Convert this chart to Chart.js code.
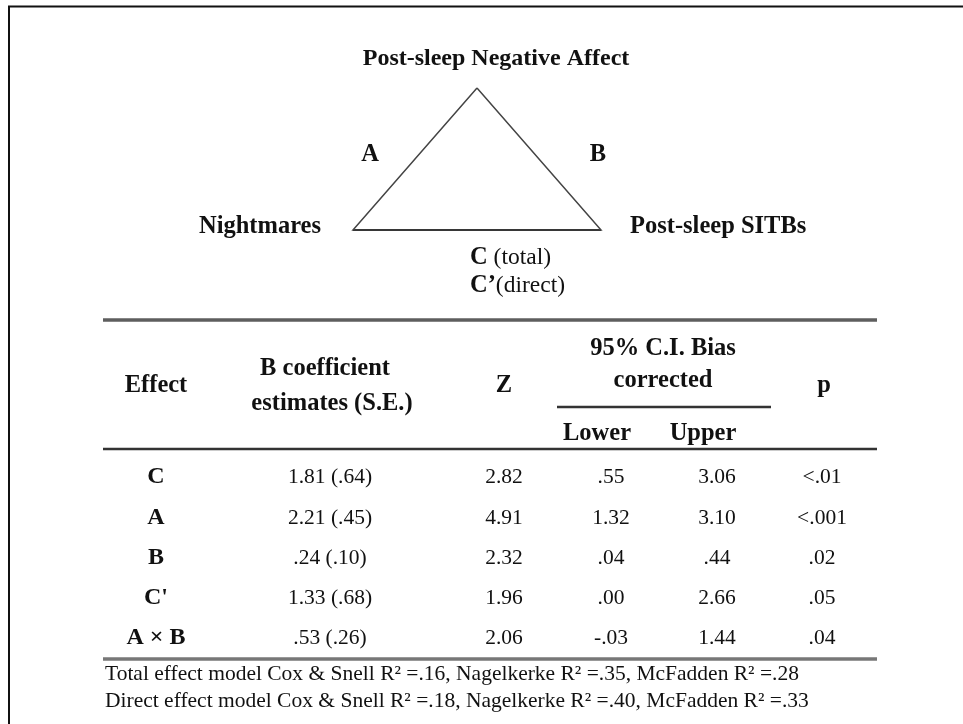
<!DOCTYPE html>
<html>
<head>
<meta charset="utf-8">
<script src="https://cdn.jsdelivr.net/npm/chart.js@4.4.1/dist/chart.umd.min.js"></script>
<style>
  html, body { margin: 0; background: #fff; }
  canvas { display: block; }
</style>
</head>
<body>
<canvas id="fig" width="963" height="724"></canvas>
<script>
// Mediation figure + effects table, all on one Chart.js canvas

// --- diagram (abstract node coordinates: apex on top, two base corners) ---
const nodeNames = ['Post-sleep Negative Affect', 'Nightmares', 'Post-sleep SITBs'];
const nodeX = [0, -1, 1];
const nodeY = [1, 0, 0];
const pathNames = ['A', 'B'];

// --- table ---
const headers = ['Effect', 'B coefficient', 'Z', '95% C.I. Bias', 'p'];
const subHeaders = ['Lower', 'Upper'];
const effects = ['C', 'A', 'B', "C'", 'A × B'];
const bEst = [1.81, 2.21, 0.24, 1.33, 0.53];
const bSE = [0.64, 0.45, 0.10, 0.68, 0.26];
const zVals = [2.82, 4.91, 2.32, 1.96, 2.06];
const ciLower = [0.55, 1.32, 0.04, 0.00, -0.03];
const ciUpper = [3.06, 3.10, 0.44, 2.66, 1.44];
const pVals = ['<.01', '<.001', '.02', '.05', '.04'];
const notes = [
  'Total effect model Cox & Snell R² =.16, Nagelkerke R² =.35, McFadden R² =.28',
  'Direct effect model Cox & Snell R² =.18, Nagelkerke R² =.40, McFadden R² =.33'
];

const W = 963, H = 724;
const SERIF = '"Liberation Serif", "Times New Roman", serif';
const INK = '#111';

// diagram placement: apex/base pixels
const apexPx = { x: 477, y: 88 }, baseY = 230, halfW = 124;
const dySpan = H / (baseY - apexPx.y);

// table placement
const colX = [156, 330, 504, 611, 717, 822];
const rowBase = [483, 524, 564, 604, 644];
const tableL = 103, tableR = 877;

// APA style: drop leading zero
function fmt(v) {
  return v.toFixed(2).replace(/^(-?)0\./, '$1.');
}

function triangle() {
  const idx = [0, 1, 2, 0];
  return idx.map(i => ({ x: nodeX[i], y: nodeY[i] }));
}

function hline(x1, x2, y) { return [{ x: x1, y: y }, { x: x2, y: y }]; }

function drawRuns(ctx, runs, x, y, align) {
  let total = 0;
  runs.forEach(r => { ctx.font = r.font; total += ctx.measureText(r.t).width; });
  let cx = align === 'center' ? x - total / 2 : (align === 'right' ? x - total : x);
  ctx.textAlign = 'left';
  runs.forEach(r => {
    ctx.font = r.font;
    ctx.fillText(r.t, cx, y);
    cx += ctx.measureText(r.t).width;
  });
}

const textPlugin = {
  id: 'figText',
  afterDraw(chart) {
    const ctx = chart.ctx;
    const sx = chart.scales.x, sy = chart.scales.y;
    const px = v => sx.getPixelForValue(v), py = v => sy.getPixelForValue(v);
    const BN = 'bold 24.5px ' + SERIF, RN = '23.5px ' + SERIF;
    const BH = 'bold 24.5px ' + SERIF, RV = '21.5px ' + SERIF;
    ctx.save();
    ctx.fillStyle = INK;
    ctx.textBaseline = 'alphabetic';

    // box frame (cut off right and bottom)
    ctx.strokeStyle = '#111';
    ctx.lineWidth = 2;
    ctx.beginPath();
    ctx.moveTo(px(9), py(H));
    ctx.lineTo(px(9), py(6.5));
    ctx.lineTo(px(W), py(6.5));
    ctx.stroke();

    // node labels
    ctx.font = 'bold 24px ' + SERIF;
    ctx.textAlign = 'center';
    ctx.fillText(nodeNames[0], px(496), py(65));
    ctx.font = BN;
    ctx.textAlign = 'right';
    ctx.fillText(nodeNames[1], px(321), py(233));
    ctx.textAlign = 'left';
    ctx.fillText(nodeNames[2], px(630), py(233));
    ctx.textAlign = 'center';
    ctx.fillText(pathNames[0], px(370), py(161));
    ctx.fillText(pathNames[1], px(598), py(161));
    drawRuns(ctx, [{ t: 'C', font: BN }, { t: ' (total)', font: RN }], px(470), py(264), 'left');
    drawRuns(ctx, [{ t: 'C’', font: BN }, { t: '(direct)', font: RN }], px(470), py(292), 'left');

    // header
    ctx.font = BH;
    ctx.textAlign = 'center';
    ctx.fillText(headers[0], px(colX[0]), py(392));
    ctx.fillText(headers[1], px(325), py(375));
    ctx.fillText('estimates (S.E.)', px(332), py(410));
    ctx.fillText(headers[2], px(colX[2]), py(392));
    ctx.fillText(headers[3], px(663), py(355));
    ctx.fillText('corrected', px(663), py(387));
    ctx.fillText(headers[4], px(824), py(392));
    ctx.fillText(subHeaders[0], px(597), py(440));
    ctx.fillText(subHeaders[1], px(703), py(440));

    // body rows
    effects.forEach((e, i) => {
      const y = py(rowBase[i]);
      ctx.font = 'bold 24px ' + SERIF;
      ctx.fillText(e, px(colX[0]), y);
      ctx.font = RV;
      ctx.fillText(fmt(bEst[i]) + ' (' + fmt(bSE[i]) + ')', px(colX[1]), y);
      ctx.fillText(fmt(zVals[i]), px(colX[2]), y);
      ctx.fillText(fmt(ciLower[i]), px(colX[3]), y);
      ctx.fillText(fmt(ciUpper[i]), px(colX[4]), y);
      ctx.fillText(pVals[i], px(colX[5]), y);
    });

    // notes
    ctx.font = '21.5px ' + SERIF;
    ctx.textAlign = 'left';
    ctx.fillText(notes[0], px(105), py(680));
    ctx.fillText(notes[1], px(105), py(707));
    ctx.restore();
  }
};

const ruleStyle = (c, w) => ({ borderColor: c, borderWidth: w, pointRadius: 0, showLine: true, xAxisID: 'x', yAxisID: 'y' });

new Chart(document.getElementById('fig'), {
  type: 'scatter',
  data: {
    datasets: [
      { data: triangle(), xAxisID: 'dx', yAxisID: 'dy', showLine: true, pointRadius: 0,
        borderColor: '#444', borderWidth: 1.5, borderJoinStyle: 'miter' },
      { data: triangle().slice(1, 3), xAxisID: 'dx', yAxisID: 'dy', showLine: true, pointRadius: 0,
        borderColor: '#111', borderWidth: 2 },
      Object.assign({ data: hline(tableL, tableR, 320) }, ruleStyle('#5e5e5e', 3.5)),
      Object.assign({ data: hline(tableL, tableR, 449) }, ruleStyle('#333', 2.5)),
      Object.assign({ data: hline(557, 771, 407) }, ruleStyle('#333', 2.5)),
      Object.assign({ data: hline(tableL, tableR, 659) }, ruleStyle('#777', 3.5))
    ]
  },
  options: {
    responsive: false,
    animation: false,
    events: [],
    layout: { padding: 0 },
    plugins: { legend: { display: false }, tooltip: { enabled: false } },
    scales: {
      x: { type: 'linear', min: 0, max: W, display: false },
      y: { type: 'linear', min: 0, max: H, reverse: true, display: false },
      dx: { type: 'linear', display: false,
            min: -apexPx.x / halfW, max: (W - apexPx.x) / halfW },
      dy: { type: 'linear', display: false,
            min: -(H - baseY) / (baseY - apexPx.y), max: -(H - baseY) / (baseY - apexPx.y) + dySpan }
    }
  },
  plugins: [textPlugin]
});
</script>
</body>
</html>
